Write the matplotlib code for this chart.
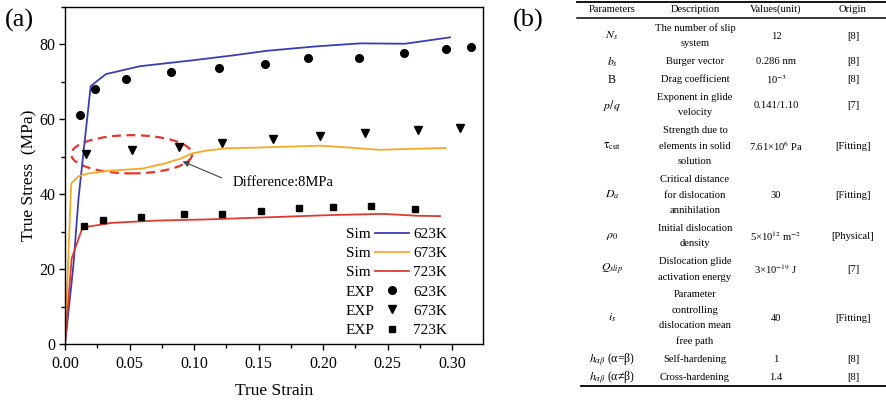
import matplotlib
matplotlib.use('Agg')
import matplotlib.pyplot as plt
from matplotlib.patches import Ellipse
from matplotlib.lines import Line2D
from matplotlib.ticker import MultipleLocator, FormatStrFormatter

plt.rcParams['font.family'] = ['Liberation Serif', 'DejaVu Serif']
plt.rcParams['mathtext.fontset'] = 'stix'

# ---------------- data: panel (a) ----------------
sim623_x = [0.0, 0.0065, 0.0105, 0.0199, 0.0258, 0.0318, 0.0581, 0.0995, 0.1305, 0.156, 0.195, 0.229, 0.2636, 0.2984]
sim623_y = [0.0, 21.0, 39.0, 68.9, 70.5, 72.1, 74.2, 75.8, 77.1, 78.3, 79.5, 80.3, 80.2, 81.9]

sim673_x = [0.0, 0.0045, 0.005, 0.0103, 0.018, 0.034, 0.06, 0.078, 0.09, 0.098, 0.11, 0.125, 0.15, 0.198, 0.22, 0.244, 0.295]
sim673_y = [0.0, 40.5, 43.0, 44.8, 45.6, 46.3, 46.9, 48.3, 49.6, 50.9, 51.7, 52.3, 52.5, 53.0, 52.5, 51.9, 52.4]

sim723_x = [0.0, 0.0026, 0.0052, 0.0078, 0.0129, 0.018, 0.031, 0.036, 0.07, 0.094, 0.1085, 0.208, 0.2467, 0.2726, 0.2907]
sim723_y = [0.0, 11.8, 22.9, 25.5, 30.5, 31.4, 32.1, 32.4, 33.0, 33.2, 33.3, 34.5, 34.8, 34.3, 34.2]

exp623_x = [0.0114, 0.0233, 0.047, 0.0822, 0.119, 0.155, 0.188, 0.228, 0.263, 0.2956, 0.3145]
exp623_y = [61.1, 68.0, 70.9, 72.6, 73.8, 74.8, 76.5, 76.5, 77.6, 78.7, 79.3]

exp673_x = [0.0163, 0.0517, 0.0884, 0.122, 0.161, 0.198, 0.2326, 0.274, 0.306]
exp673_y = [50.7, 51.8, 52.7, 53.6, 54.7, 55.5, 56.4, 57.1, 57.8]

exp723_x = [0.0145, 0.0292, 0.0587, 0.0925, 0.122, 0.152, 0.181, 0.2075, 0.237, 0.271]
exp723_y = [31.5, 33.2, 33.9, 34.8, 34.8, 35.7, 36.4, 36.6, 37.0, 36.1]

temps = ['623K', '673K', '723K']
x_ticks = [0.00, 0.05, 0.10, 0.15, 0.20, 0.25, 0.30]
y_ticks = [0, 20, 40, 60, 80]
annot_text = 'Difference:8MPa'

# ---------------- data: panel (b) table ----------------
tbl_header = ['Parameters', 'Description', 'Values(unit)', 'Origin']
tbl_params = [r'$N_s$', r'$b_s$', 'B', r'$p/q$', r'$\mathrm{\tau}_{\mathrm{cut}}$', r'$D_a$',
              r'$\rho_0$', r'$Q_{slip}$', r'$i_s$', r'$h_{\alpha\beta}$ (α=β)', r'$h_{\alpha\beta}$ (α≠β)']
tbl_desc = [['The number of slip', 'system'],
            ['Burger vector'],
            ['Drag coefficient'],
            ['Exponent in glide', 'velocity'],
            ['Strength due to', 'elements in solid', 'solution'],
            ['Critical distance', 'for dislocation', 'annihilation'],
            ['Initial dislocation', 'density'],
            ['Dislocation glide', 'activation energy'],
            ['Parameter', 'controlling', 'dislocation mean', 'free path'],
            ['Self-hardening'],
            ['Cross-hardening']]
tbl_values = ['12', '0.286 nm', r'10$^{-3}$', '0.141/1.10', r'7.61×10$^{6}$ Pa', '30',
              r'5×10$^{12}$ m$^{-2}$', r'3×10$^{-19}$ J', '40', '1', '1.4']
tbl_origin = ['[8]', '[8]', '[8]', '[7]', '[Fitting]', '[Fitting]', '[Physical]',
              '[7]', '[Fitting]', '[8]', '[8]']

# ---------------- figure ----------------
W, H = 886, 401
fig = plt.figure(figsize=(W / 100, H / 100), dpi=100)

ax_l, ax_r, ax_t, ax_b = 65, 483, 7, 344.3
ax = fig.add_axes([ax_l / W, (H - ax_b) / H, (ax_r - ax_l) / W, (ax_b - ax_t) / H])

c_blue = '#3a3db5'
c_orange = '#f9a825'
c_red = '#e03a2f'
lw = 1.3

l623, = ax.plot(sim623_x, sim623_y, color=c_blue, lw=lw)
l673, = ax.plot(sim673_x, sim673_y, color=c_orange, lw=lw)
l723, = ax.plot(sim723_x, sim723_y, color=c_red, lw=lw)
e623, = ax.plot(exp623_x, exp623_y, 'o', color='black', ms=5.5, ls='none')
e673, = ax.plot(exp673_x, exp673_y, 'v', color='black', ms=6, ls='none')
e723, = ax.plot(exp723_x, exp723_y, 's', color='black', ms=5, ls='none')

ax.set_xlim(0, 0.324)
ax.set_ylim(0, 90)
ax.set_xticks(x_ticks)
ax.set_yticks(y_ticks)
ax.xaxis.set_major_formatter(FormatStrFormatter('%.2f'))
ax.xaxis.set_minor_locator(MultipleLocator(0.025))
ax.yaxis.set_minor_locator(MultipleLocator(10))
ax.tick_params(which='both', direction='out', width=1.0, labelsize=11.5)
ax.tick_params(which='major', length=4.5)
ax.tick_params(which='minor', length=3)
ax.tick_params(axis='x', pad=4)
ax.tick_params(axis='y', pad=2.5)
for sp in ax.spines.values():
    sp.set_linewidth(1.0)

ax.set_xlabel('True Strain', fontsize=12.5, labelpad=8)
ax.set_ylabel('True Stress  (MPa)', fontsize=12.5, labelpad=1)

# ellipse and annotation
ell = Ellipse((0.0517, 50.7), width=0.0938, height=10.2, fill=False,
              ec='#e8342e', ls=(0, (4, 2.5)), lw=1.6)
ax.add_patch(ell)
ax.annotate('', xy=(0.0912, 48.8), xytext=(0.1215, 44.4),
            arrowprops=dict(arrowstyle='-|>', color='#444444', lw=0.8,
                            shrinkA=0, shrinkB=0, mutation_scale=9))
ax.text(0.1302, 43.3, annot_text, fontsize=10.5, ha='left', va='center')

# legend: left column texts (Sim / EXP), right column handles + temps
leg_fs = 11
leg_sp = 0.36
bottom_frac = (ax_b - 337) / (ax_b - ax_t)
handles = [l623, l673, l723, e623, e673, e723]
leg1 = ax.legend(handles, temps + temps, loc='lower left',
                 bbox_to_anchor=((375 - ax_l) / (ax_r - ax_l), bottom_frac),
                 frameon=False, fontsize=leg_fs, handlelength=2.2, handletextpad=0.3,
                 labelspacing=leg_sp, borderpad=0, borderaxespad=0, numpoints=1)
ax.add_artist(leg1)
blank = [Line2D([], [], ls='none') for _ in range(6)]
leg2 = ax.legend(blank, ['Sim'] * 3 + ['EXP'] * 3, loc='lower left',
                 bbox_to_anchor=((346 - ax_l) / (ax_r - ax_l), bottom_frac),
                 frameon=False, fontsize=leg_fs, handlelength=0, handletextpad=0,
                 labelspacing=leg_sp, borderpad=0, borderaxespad=0)

# panel labels
fig.text(5 / W, 1 - 20 / H, '(a)', fontsize=19, ha='left', va='center')
fig.text(513 / W, 1 - 20 / H, '(b)', fontsize=19, ha='left', va='center')

# ---------------- table ----------------
tx = fig.add_axes([0, 0, 1, 1], zorder=-1)
tx.set_xlim(0, W)
tx.set_ylim(H, 0)
tx.axis('off')

col_x = [612, 695, 776, 853]
tfs = 7.6
pfs = 8.5
header_y = 9.5
for cx, h in zip(col_x, tbl_header):
    tx.text(cx, header_y, h, fontsize=tfs, ha='center', va='center')

tx.plot([577, 886], [2, 2], color='black', lw=1.3)
tx.plot([577, 886], [17.5, 17.5], color='black', lw=1.1)

line_h = 15.5
row_gap = 2.3
y = 28.5
for p, d, v, o in zip(tbl_params, tbl_desc, tbl_values, tbl_origin):
    ys = []
    for k, line in enumerate(d):
        tx.text(col_x[1], y, line, fontsize=tfs, ha='center', va='center')
        ys.append(y)
        y += line_h
    yc = sum(ys) / len(ys)
    tx.text(col_x[0], yc, p, fontsize=pfs, ha='center', va='center')
    tx.text(col_x[2], yc, v, fontsize=tfs, ha='center', va='center')
    tx.text(col_x[3], yc, o, fontsize=tfs, ha='center', va='center')
    y += row_gap
tx.plot([581, 886], [386, 386], color='black', lw=1.3)

fig.savefig('out.png', dpi=100)
